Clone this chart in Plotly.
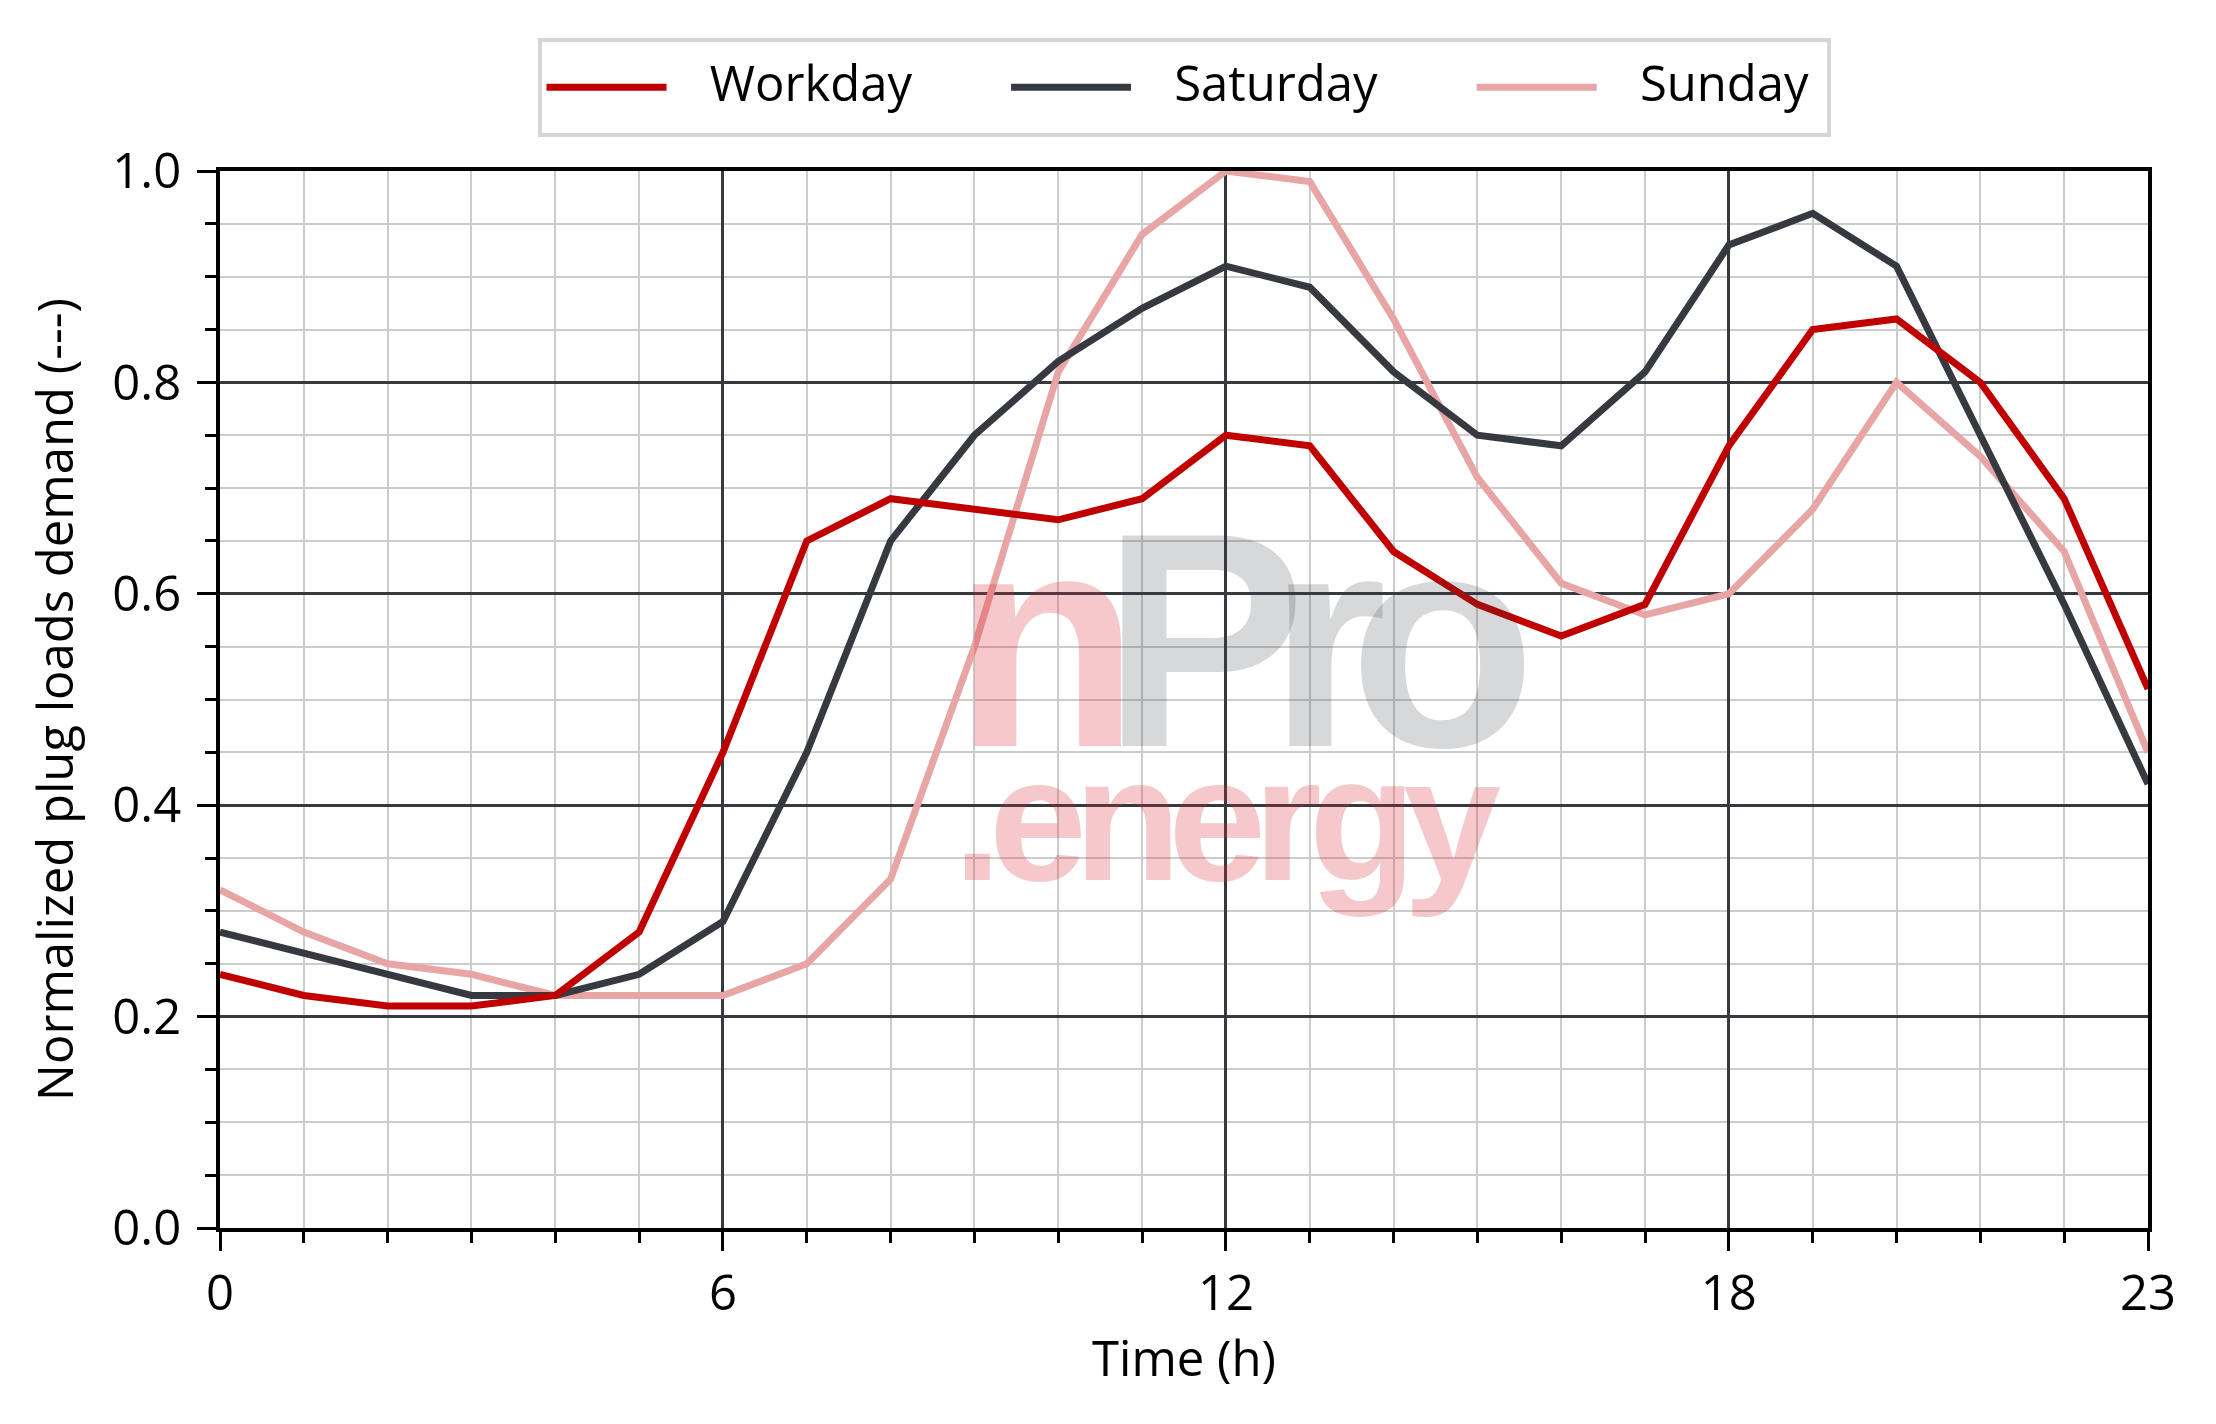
import plotly.graph_objects as go

hours = list(range(24))
workday = [0.24, 0.22, 0.21, 0.21, 0.22, 0.28, 0.45, 0.65, 0.69, 0.68, 0.67, 0.69,
           0.75, 0.74, 0.64, 0.59, 0.56, 0.59, 0.74, 0.85, 0.86, 0.80, 0.69, 0.51]
saturday = [0.28, 0.26, 0.24, 0.22, 0.22, 0.24, 0.29, 0.45, 0.65, 0.75, 0.82, 0.87,
            0.91, 0.89, 0.81, 0.75, 0.74, 0.81, 0.93, 0.96, 0.91, 0.75, 0.59, 0.42]
sunday = [0.32, 0.28, 0.25, 0.24, 0.22, 0.22, 0.22, 0.25, 0.33, 0.55, 0.81, 0.94,
          1.00, 0.99, 0.86, 0.71, 0.61, 0.58, 0.60, 0.68, 0.80, 0.73, 0.64, 0.45]

x_ticks = [0, 6, 12, 18, 23]
y_ticks = [0.0, 0.2, 0.4, 0.6, 0.8, 1.0]

FONT = "Open Sans"
FS = 49
NB = "\u00a0"


def legend_name(label, trailing):
    return (f"<span style='font-size:{FS}px;baseline-shift:10px'>"
            f"{NB * 3}{label}{NB * trailing}</span>")


fig = go.Figure()
fig.add_trace(go.Scatter(x=hours, y=sunday, mode="lines", name=legend_name("Sunday", 1),
                         line=dict(color="#e8a5a5", width=7), legendrank=3))
fig.add_trace(go.Scatter(x=hours, y=saturday, mode="lines", name=legend_name("Saturday", 7),
                         line=dict(color="#363a40", width=7), legendrank=2))
fig.add_trace(go.Scatter(x=hours, y=workday, mode="lines", name=legend_name("Workday", 7),
                         line=dict(color="#c00000", width=7), legendrank=1))

# watermark
WM_FONT = "Liberation Sans, Arial, sans-serif"
fig.add_annotation(
    x=0.379, y=0.506, xref="paper", yref="paper", xanchor="left", yanchor="middle", align="left",
    text="<b><span style='font-size:306px;letter-spacing:-38px'>"
         "<span style='color:rgba(215,40,50,0.25)'>n</span>"
         "<span style='color:rgba(54,58,64,0.2)'>Pro</span></span><br>"
         "<span style='font-size:176px;letter-spacing:-13px;color:rgba(215,40,50,0.25)'>.energy</span></b>",
    showarrow=False,
    font=dict(family=WM_FONT, size=103),
)

axis_common = dict(
    showline=True, linecolor="black", linewidth=4, mirror=True,
    ticks="outside", ticklen=19, tickwidth=3, tickcolor="black",
    showgrid=True, gridcolor="#363a40", gridwidth=3,
    zeroline=False,
    tickfont=dict(family=FONT, size=FS, color="black"),
)

fig.update_xaxes(
    **axis_common,
    range=[0, 23], tickvals=x_ticks, ticktext=[str(v) for v in x_ticks],
    title=dict(text="Time (h)", font=dict(family=FONT, size=FS, color="black"), standoff=20),
    minor=dict(dtick=1, tick0=0, ticks="outside", ticklen=11, tickwidth=3, tickcolor="black",
               showgrid=True, gridcolor="#cccccc", gridwidth=2),
)
fig.update_yaxes(
    **axis_common,
    range=[0, 1], tickvals=y_ticks, ticktext=[f"{v:.1f}" for v in y_ticks],
    ticklabelstandoff=6,
    title=dict(text="Normalized plug loads demand (---)", font=dict(family=FONT, size=FS, color="black"),
               standoff=24),
    minor=dict(dtick=0.05, tick0=0, ticks="outside", ticklen=11, tickwidth=3, tickcolor="black",
               showgrid=True, gridcolor="#cccccc", gridwidth=2),
)

fig.update_layout(
    width=2216, height=1424,
    margin=dict(l=220, r=68, t=171, b=196),
    paper_bgcolor="white", plot_bgcolor="white",
    font=dict(family=FONT, size=FS, color="black"),
    showlegend=True,
    legend=dict(orientation="h", x=0.5, xanchor="center", y=1.126, yanchor="top",
                bgcolor="white", bordercolor="#d6d6d6", borderwidth=4,
                font=dict(family=FONT, size=60, color="black"),
                itemwidth=120),
)

fig.write_html("out.html")
